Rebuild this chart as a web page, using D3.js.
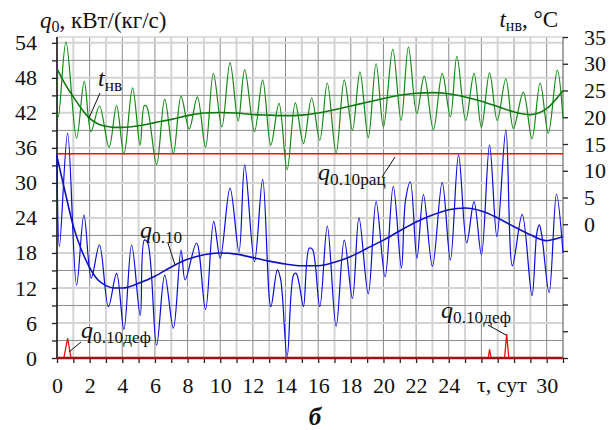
<!DOCTYPE html>
<html><head><meta charset="utf-8">
<script src="https://cdn.jsdelivr.net/npm/d3@7/dist/d3.min.js"></script>
<style>
html,body{margin:0;padding:0;background:#fff;}
svg{display:block;}
text, tspan {font-family:'Liberation Serif' !important;}
</style></head>
<body><svg id="c" width="613" height="430" font-family="Liberation Serif"></svg>
<script>
// ---- data ----
const xTickLabels = ["0","2","4","6","8","10","12","14","16","18","20","22","24","","","30"];
const leftTickLabels = [0,6,12,18,24,30,36,42,48,54];
const rightTickLabels = [0,5,10,15,20,25,30,35];

// outdoor air temperature t_нв, °C (right axis)
const tDays = [0,0.08,0.55,1.2,1.67,2.08,2.6,3.19,3.65,4.1,4.63,5.09,5.35,5.5,6.1,6.6,7.13,7.6,8.1,8.6,9.1,9.58,10.1,10.6,11.1,11.5,12.1,12.6,13.1,13.6,14.1,14.6,15.1,15.6,16.1,16.56,17.1,17.6,18.1,18.56,19.07,19.55,20.0,20.57,21.08,21.53,22.04,22.5,23.06,23.6,24.1,24.5,25.04,25.55,26.0,26.5,26.97,27.5,27.96,28.57,29.1,29.6,30.1,30.65,31];
const tVals = [20.7,20.1,34.1,16.1,26.7,17.3,22.1,14.4,22.2,13.1,25.5,14.8,22.2,22.0,11.2,23.4,13.3,23.9,17.8,23.8,14.4,28.2,18.2,30.2,19.3,28.9,17.3,27.0,14.8,22.6,10.2,22.7,15.1,23.6,15.7,26.4,13.3,27.0,17.6,28.5,16.2,30.0,18.2,32.7,19.4,33.1,20.7,27.7,17.7,28.2,20.1,31.4,19.4,28.2,18.1,28.3,19.4,27.2,17.9,24.7,16.0,26.4,17.0,28.8,19.8];
// smoothed temperature trend
const tTrendDays = [0,0.5,1,1.5,2,2.5,3,3.5,4,5,6,7,8,9,10,11,12,13,14,15,16,17,18,19,20,21,22,23,24,25,26,27,28,29,30,31];
const tTrendVals = [29.1,26.2,23.8,21.6,19.8,18.8,18.3,18.1,18.1,18.4,19.0,19.6,20.3,20.8,20.9,20.8,20.5,20.4,20.3,20.4,20.8,21.4,22.1,22.8,23.5,24.1,24.5,24.6,24.4,23.8,23.0,22.0,21.0,20.5,21.6,25.0];

// specific cooling load q0.10, кВт/(кг/с) (left axis)
const qDays = [0,0.15,0.65,1.2,1.65,2.1,2.6,3.15,3.65,4.1,4.57,5.1,5.35,5.55,6.1,6.6,7.13,7.6,7.85,8.55,9.1,9.6,10.0,10.6,11.15,11.5,12.1,12.6,13.1,13.5,13.7,14.1,14.5,14.65,14.85,15.1,15.45,15.65,16.1,16.56,17.1,17.6,18.1,18.5,19.07,19.55,20.1,20.6,21.1,21.35,21.65,22.05,22.45,23.0,23.6,24.1,24.6,25.1,25.55,26.0,26.5,26.95,27.5,27.9,28.5,29.1,29.4,29.55,29.7,30.15,30.6,31];
const qVals = [35.1,19.1,38.5,12.5,24.5,13.7,19.4,8.8,14.5,4.9,19.4,7.3,20.2,19.8,2.2,14.2,5.1,18.5,13.4,19.7,8.3,23.4,17.1,29.1,18.2,33.1,16.5,30.6,8.8,15.1,13.5,0.2,14.3,14.5,12.5,8.8,18.8,18.6,8.8,22.6,5.4,20.2,10.2,24.0,11.0,26.8,13.9,29.4,15.4,27.0,30.2,17.1,28.0,15.7,30.1,16.8,34.8,19.7,26.8,17.7,36.5,20.8,39.1,15.8,24.6,10.7,21.5,22.8,21.0,11.2,28.1,18.0];
// smoothed q0.10 trend
const qTrendDays = [0,0.5,1,1.5,2,2.5,3,3.5,4,5,6,7,8,9,10,11,12,13,14,15,16,17,18,19,20,21,22,23,24,25,26,27,28,29,30,31];
const qTrendVals = [34.5,28.4,22.6,18.5,15.5,13.4,12.4,12.0,12.0,12.8,14.0,15.6,16.9,17.7,18.0,17.8,17.2,16.6,16.1,15.8,15.8,16.4,17.4,18.8,20.2,21.8,23.3,24.5,25.4,25.7,25.2,24.0,22.5,21.1,20.1,20.8];

// rational level q0.10рац
const qRat = 35;
// deficit q0.10деф
const defDays = [0,0.42,0.65,0.86,26.42,26.5,26.6,27.42,27.55,27.68,31];
const defVals = [0,0,3.4,0,0,1.5,0,0,4.1,0,0];

// ---- chart ----
const svg = d3.select("#c");
const x = d3.scaleLinear([0,31],[57,563]);
const yL = d3.scaleLinear([0,55],[358,37]);
const yR = d3.scaleLinear([-25,35],[358,37]);
const FONT = "'Liberation Serif'";

// grid
const g = svg.append("g");
d3.range(1,31).forEach(d=>{
  const even = d%2===0;
  g.append("line").attr("x1",x(d)).attr("x2",x(d)).attr("y1",yL(55)).attr("y2",yL(0))
   .attr("stroke", even?"#8c8c8c":"#d4d4d4").attr("stroke-width", even?1:2);
});
d3.range(3,55,3).forEach(v=>{
  const six = v%6===0;
  g.append("line").attr("x1",x(0)).attr("x2",x(31)).attr("y1",yL(v)).attr("y2",yL(v))
   .attr("stroke", six?"#d4d4d4":"#8c8c8c").attr("stroke-width", six?2:1);
});
g.append("line").attr("x1",x(0)).attr("x2",x(31)).attr("y1",yL(55)).attr("y2",yL(55)).attr("stroke","#d4d4d4").attr("stroke-width",1.5);

// axes
const leftAxis = d3.axisLeft(yL).tickValues(d3.range(0,55,3)).tickSize(5).tickPadding(15)
  .tickFormat(d=> leftTickLabels.includes(d) ? d : "");
const ga = svg.append("g").attr("transform",`translate(${x(0)},0)`).call(leftAxis);
ga.select(".domain").attr("d",`M-0,${yL(0)}V${yL(55)}`).attr("stroke","#000").attr("stroke-width",1.5);
const rightAxis = d3.axisRight(yR).tickValues(d3.range(-25,36,5)).tickSize(5).tickPadding(16)
  .tickFormat(d=> rightTickLabels.includes(d) ? d : "");
const gr = svg.append("g").attr("transform",`translate(${x(31)},0)`).call(rightAxis);
gr.select(".domain").attr("d",`M0,${yR(-25)}V${yR(35)}`).attr("stroke","#888").attr("stroke-width",1.5);
const bottomAxis = d3.axisBottom(x).tickValues(d3.range(0,32,1)).tickSize(5).tickPadding(14)
  .tickFormat(d=> d%2===0 ? xTickLabels[d/2] : "");
const gb = svg.append("g").attr("transform",`translate(0,${yL(0)})`).call(bottomAxis);
gb.select(".domain").remove();
[ga,gr,gb].forEach(a=>{
  a.attr("font-family",FONT).attr("font-size",22);
  a.selectAll("text").style("font-family",FONT).style("font-size","22px").attr("fill","#111");
  a.selectAll(".tick line").attr("stroke","#222").attr("stroke-width",1.3);
});

// lines
const lineT = d3.line().x((d,i)=>x(tDays[i])).y(d=>yR(d)).curve(d3.curveCatmullRom.alpha(0.5));
const lineTT = d3.line().x((d,i)=>x(tTrendDays[i])).y(d=>yR(d)).curve(d3.curveMonotoneX);
const lineQ = d3.line().x((d,i)=>x(qDays[i])).y(d=>yL(d)).curve(d3.curveCatmullRom.alpha(0.5));
const lineQT = d3.line().x((d,i)=>x(qTrendDays[i])).y(d=>yL(d)).curve(d3.curveMonotoneX);
const lineD = d3.line().x((d,i)=>x(defDays[i])).y(d=>yL(d));

svg.append("path").attr("d",lineT(tVals)).attr("fill","none").attr("stroke","#108a10").attr("stroke-width",1.2);
svg.append("path").attr("d",lineTT(tTrendVals)).attr("fill","none").attr("stroke","#107a10").attr("stroke-width",1.6);
svg.append("line").attr("x1",x(0)).attr("x2",x(31)).attr("y1",yL(qRat)).attr("y2",yL(qRat)).attr("stroke","#ee1010").attr("stroke-width",1.3);
svg.append("path").attr("d",lineQ(qVals)).attr("fill","none").attr("stroke","#0a0adc").attr("stroke-width",1.2);
svg.append("path").attr("d",lineQT(qTrendVals)).attr("fill","none").attr("stroke","#1010c0").attr("stroke-width",1.6);
svg.append("path").attr("d",lineD(defVals)).attr("fill","none").attr("stroke","#ee1010").attr("stroke-width",1.3);
svg.append("line").attr("x1",x(0)).attr("x2",x(31)).attr("y1",yL(0)).attr("y2",yL(0)).attr("stroke","#a01010").attr("stroke-width",2.6);

// annotations
function label(xp,yp,main,sub,fs){
  const t = svg.append("text").attr("x",xp).attr("y",yp).style("font-family",FONT).attr("fill","#111");
  t.append("tspan").style("font-style","italic").style("font-size",fs+"px").text(main);
  t.append("tspan").style("font-size",(fs*0.72)+"px").attr("dy",fs*0.22).text(sub);
  return t;
}
function leader(x1,y1,x2,y2){
  svg.append("line").attr("x1",x1).attr("y1",y1).attr("x2",x2).attr("y2",y2).attr("stroke","#111").attr("stroke-width",1);
}
label(98,86,"t","нв",24); leader(100,93,89,118);
label(140,238,"q","0.10",24); leader(168,243,175,265);
label(318,180,"q","0.10рац",24); leader(382,177,395,157);
label(81,338,"q","0.10деф",24); leader(81,342,69,352);
label(441,318,"q","0.10деф",24); leader(488,325,506,335);

// axis titles
const tl = svg.append("text").attr("x",40).attr("y",28).style("font-family",FONT).style("font-size","23px").attr("fill","#111");
tl.append("tspan").style("font-style","italic").text("q");
tl.append("tspan").style("font-size","16px").attr("dy",4).text("0");
tl.append("tspan").attr("dy",-4).text(", кВт/(кг/с)");
const tr = svg.append("text").attr("x",558).attr("y",27).attr("text-anchor","end").style("font-family",FONT).style("font-size","23px").attr("fill","#111");
tr.append("tspan").style("font-style","italic").text("t");
tr.append("tspan").style("font-size","16px").attr("dy",4).text("нв");
tr.append("tspan").attr("dy",-4).text(", °C");
svg.append("text").attr("x",502).attr("y",392).attr("text-anchor","middle").style("font-family",FONT).style("font-size","22px").attr("fill","#111").text("τ, сут");
svg.append("text").attr("x",315).attr("y",425).attr("text-anchor","middle").style("font-family",FONT).style("font-size","25px").style("font-weight","bold").style("font-style","italic").attr("fill","#111").text("б");
</script></body></html>
